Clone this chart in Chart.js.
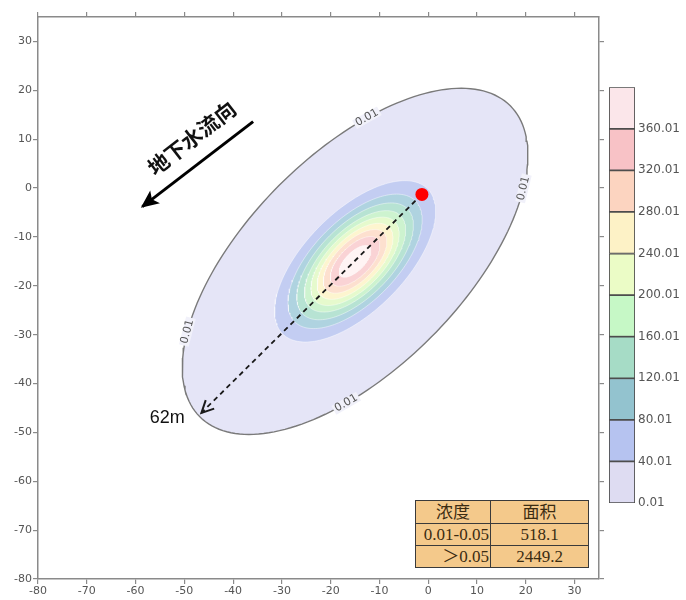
<!DOCTYPE html>
<html>
<head>
<meta charset="utf-8">
<script src="https://cdn.jsdelivr.net/npm/chart.js@4.4.1/dist/chart.umd.min.js"></script>
<style>
  body { margin: 0; background: #fff; }
  #wrap { position: relative; width: 686px; height: 600px; }
  #plot { position: absolute; left: 0; top: 0; }
  #bar { position: absolute; left: 600px; top: 77px; }
  #areaTable {
    position: absolute; left: 415px; top: 500px; width: 173px; height: 67px;
    border-collapse: collapse; table-layout: fixed; background: #f4c98b;
    font-family: "Liberation Serif", "Noto Sans CJK SC", serif; font-size: 17px; color: #3b2c12;
  }
  #areaTable td { border: 1.5px solid #3a3a3a; padding: 0; line-height: 19px; white-space: nowrap; overflow: hidden; }
  #areaTable td.c { text-align: center; }
  #areaTable td.r { text-align: right; padding-right: 1px; }
</style>
</head>
<body>
<div id="wrap">
  <canvas id="plot" width="686" height="600"></canvas>
  <canvas id="bar" width="86" height="440"></canvas>
  <table id="areaTable"><colgroup><col style="width:75px"><col style="width:98px"></colgroup></table>
</div>
<script>
"use strict";

// axis ticks
const xTicks = [-80, -70, -60, -50, -40, -30, -20, -10, 0, 10, 20, 30];
const yTicks = [-80, -70, -60, -50, -40, -30, -20, -10, 0, 10, 20, 30];

const levels = [0.01, 40.01, 80.01, 120.01, 160.01, 200.01, 240.01, 280.01, 320.01, 360.01];
const semiMajor = [45, 21, 17.5, 15.2, 13.2, 11.5, 9.9, 8.3, 6.5, 4.2];
const semiMinor = [22, 10.2, 8.5, 7.4, 6.4, 5.6, 4.8, 4.0, 3.1, 1.9];
const plumeCenter = [-15, -15];
const plumeAngle = 45; // degrees

// source, spread distance and flow direction
const sourcePoint = [-1.3, -1.3];
const rangeEnd = [-46.5, -46];
const flowTail = [-35.9, 13.6];
const flowHead = [-58.6, -3.8];
const contourLabelParams = [60, -39, 140, 241]; // where "0.01" sits on the outer contour

// area table
const tableRows = [
  ['浓度', '面积'],
  ['0.01-0.05', '518.1'],
  ['＞0.05', '2449.2']
];

// styles
const plumeColors = ['#e5e5f7', '#c3cdf2', '#afd3e0', '#b7e3d3', '#cdf3cf',
                     '#e6facd', '#fdf5cf', '#fde0cf', '#fad3d5', '#fff4f4'];
const barColors = ['#dedcf2', '#b6c3f0', '#93c3cf', '#a6dcc6', '#c6f8c6',
                   '#ebfcc6', '#fdf2c6', '#fcd4c0', '#f8c2c6', '#fbe6ea'];
const axisColor = '#8a8a8a';
const tickColor = '#555';

Chart.defaults.font.family = "'DejaVu Sans', sans-serif";

function ellipsePoint(a, b, t) {
  const th = plumeAngle * Math.PI / 180;
  const u = a * Math.cos(t), v = b * Math.sin(t);
  return {
    x: plumeCenter[0] + u * Math.cos(th) - v * Math.sin(th),
    y: plumeCenter[1] + u * Math.sin(th) + v * Math.cos(th)
  };
}

function ellipse(a, b) {
  let pts = [];
  for (let k = 0; k <= 180; k++) {
    pts.push(ellipsePoint(a, b, 2 * Math.PI * k / 180));
  }
  return pts;
}

let contourSets = levels.map((lv, i) => ({
  label: String(lv),
  data: ellipse(semiMajor[i], semiMinor[i]),
  backgroundColor: plumeColors[i],
  borderColor: i === 0 ? '#7a7a7a' : 'rgba(255,255,255,0.55)',
  borderWidth: i === 0 ? 1.4 : 0.8,
  fill: 'shape',
  pointRadius: 0,
  tension: 0
})).reverse();

let markSets = [
  {
    label: 'source',
    data: [{ x: sourcePoint[0], y: sourcePoint[1] }],
    showLine: false,
    pointRadius: 6.5,
    pointBackgroundColor: '#ff0000',
    pointBorderWidth: 0
  },
  {
    label: 'range',
    data: [{ x: sourcePoint[0], y: sourcePoint[1] }, { x: rangeEnd[0], y: rangeEnd[1] }],
    borderColor: '#1a1a1a',
    borderWidth: 1.8,
    borderDash: [5, 4],
    pointRadius: 0,
    fill: false,
    arrowHead: 'open'
  },
  {
    label: 'flow',
    data: [{ x: flowTail[0], y: flowTail[1] }, { x: flowHead[0], y: flowHead[1] }],
    borderColor: '#000',
    borderWidth: 3,
    pointRadius: 0,
    fill: false,
    arrowHead: 'filled'
  }
];

function axis(position, showLabels, size) {
  let horizontal = position === 'top' || position === 'bottom';
  return {
    type: 'linear',
    position: position,
    min: -80,
    max: 35,
    afterBuildTicks: s => { s.ticks = (horizontal ? xTicks : yTicks).map(v => ({ value: v })); },
    afterFit: s => { if (horizontal) s.height = size; else s.width = size; },
    ticks: {
      display: showLabels,
      color: tickColor,
      font: { size: 11 },
      padding: 1,
      autoSkip: false,
      maxRotation: 0
    },
    grid: { drawOnChartArea: false, drawTicks: true, tickLength: 5, color: axisColor, lineWidth: 1.2 },
    border: { display: true, color: axisColor, width: 1.5 }
  };
}

const overlayPlugin = {
  id: 'overlays',
  afterDatasetsDraw(chart) {
    const ctx = chart.ctx;
    const xs = chart.scales.x, ys = chart.scales.y;
    const px = v => xs.getPixelForValue(v), py = v => ys.getPixelForValue(v);

    // arrow heads
    chart.data.datasets.forEach((ds, i) => {
      if (!ds.arrowHead) return;
      const pts = chart.getDatasetMeta(i).data;
      const p1 = pts[pts.length - 2], p2 = pts[pts.length - 1];
      const ang = Math.atan2(p2.y - p1.y, p2.x - p1.x);
      ctx.save();
      ctx.translate(p2.x, p2.y);
      ctx.rotate(ang);
      ctx.beginPath();
      if (ds.arrowHead === 'filled') {
        ctx.moveTo(2, 0);
        ctx.lineTo(-16, -8);
        ctx.lineTo(-12, 0);
        ctx.lineTo(-16, 8);
        ctx.closePath();
        ctx.fillStyle = '#000';
        ctx.fill();
      } else {
        ctx.moveTo(-12, -6);
        ctx.lineTo(0, 0);
        ctx.lineTo(-12, 6);
        ctx.strokeStyle = '#1a1a1a';
        ctx.lineWidth = 2;
        ctx.stroke();
      }
      ctx.restore();
    });

    // "0.01" labels on the outer contour
    ctx.font = "11px 'DejaVu Sans'";
    contourLabelParams.forEach(deg => {
      const t = deg * Math.PI / 180;
      const p = ellipsePoint(semiMajor[0], semiMinor[0], t);
      const q = ellipsePoint(semiMajor[0], semiMinor[0], t + 0.01);
      let ang = Math.atan2(py(q.y) - py(p.y), px(q.x) - px(p.x));
      if (ang > Math.PI / 2) ang -= Math.PI;
      if (ang < -Math.PI / 2) ang += Math.PI;
      const w = ctx.measureText('0.01').width;
      ctx.save();
      ctx.translate(px(p.x), py(p.y));
      ctx.rotate(ang);
      ctx.fillStyle = '#f1f1fa';
      ctx.fillRect(-w / 2 - 2, -5, w + 4, 10);
      ctx.fillStyle = '#555';
      ctx.textAlign = 'center';
      ctx.textBaseline = 'middle';
      ctx.fillText('0.01', 0, 0);
      ctx.restore();
    });

    // flow direction text
    ctx.save();
    ctx.translate(px(-48.5), py(10.2));
    ctx.rotate(-38 * Math.PI / 180);
    ctx.font = "bold 21px 'Noto Sans CJK SC'";
    ctx.fillStyle = '#111';
    ctx.textAlign = 'center';
    ctx.textBaseline = 'middle';
    ctx.fillText('地下水流向', 0, 0);
    ctx.restore();

    // distance text
    ctx.save();
    ctx.font = "18px 'Liberation Sans'";
    ctx.fillStyle = '#111';
    ctx.textAlign = 'center';
    ctx.textBaseline = 'middle';
    ctx.fillText('62m', px(-53.5), py(-47));
    ctx.restore();
  }
};

new Chart(document.getElementById('plot'), {
  type: 'line',
  data: { datasets: markSets.concat(contourSets) },
  options: {
    responsive: false,
    animation: false,
    devicePixelRatio: 1,
    layout: { padding: 0 },
    plugins: { legend: { display: false }, tooltip: { enabled: false } },
    scales: {
      x: axis('bottom', true, 21),
      x2: axis('top', false, 17),
      y: axis('left', true, 38),
      y2: axis('right', false, 87)
    }
  },
  plugins: [overlayPlugin]
});

// colour bar
const barTop = 400.01;
new Chart(document.getElementById('bar'), {
  type: 'bar',
  data: {
    labels: [''],
    datasets: levels.map((lv, i) => ({
      data: [[lv, i + 1 < levels.length ? levels[i + 1] : barTop]],
      backgroundColor: barColors[i],
      borderColor: '#4d4d4d',
      borderWidth: 1.2,
      borderSkipped: false,
      barPercentage: 1,
      categoryPercentage: 1,
      grouped: false
    }))
  },
  options: {
    responsive: false,
    animation: false,
    devicePixelRatio: 1,
    layout: { padding: { left: 9, top: 10, bottom: 14, right: 0 } },
    plugins: { legend: { display: false }, tooltip: { enabled: false } },
    scales: {
      x: { display: false },
      y: {
        position: 'right',
        min: 0.01,
        max: barTop,
        afterBuildTicks: s => { s.ticks = levels.map(v => ({ value: v })); },
        afterFit: s => { s.width = 51; },
        ticks: { color: tickColor, font: { size: 12 }, padding: 3, callback: v => String(v) },
        grid: { display: false, drawTicks: false },
        border: { display: false }
      }
    }
  }
});

// area table
let table = document.getElementById('areaTable');
tableRows.forEach((row, r) => {
  let tr = document.createElement('tr');
  tr.style.height = r === 0 ? '23px' : '22px';
  row.forEach((txt, c) => {
    let td = document.createElement('td');
    td.textContent = txt;
    td.className = (r > 0 && c === 0) ? 'r' : 'c';
    tr.appendChild(td);
  });
  table.appendChild(tr);
});
</script>
</body>
</html>
